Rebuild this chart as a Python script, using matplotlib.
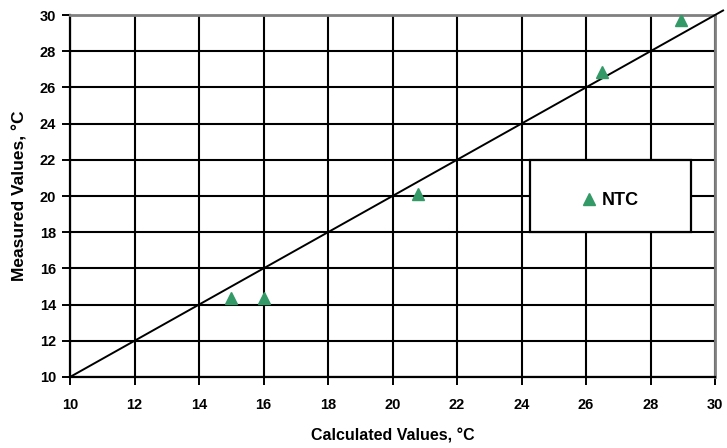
import matplotlib.pyplot as plt
from matplotlib.patches import Rectangle

plt.rcParams['font.family'] = ['Liberation Sans', 'DejaVu Sans']
plt.rcParams['font.weight'] = 'bold'

# Data
calculated = [15.0, 16.0, 20.8, 26.5, 28.95]
measured = [14.35, 14.35, 20.1, 26.85, 29.7]
ideal = [10, 30.25]
ticks = list(range(10, 31, 2))
series_name = "NTC"

# Plot
fig = plt.figure(figsize=(7.27, 4.48), dpi=100)
ax = fig.add_axes([0.0963, 0.1585, 0.8872, 0.808])
ax.set_xlim(10, 30)
ax.set_ylim(10, 30)
ax.set_xticks(ticks)
ax.set_yticks(ticks)
ax.grid(color="black", linewidth=1.5)
ax.set_axisbelow(True)

ax.plot(ideal, ideal, color="black", linewidth=1.4, clip_on=False, zorder=3)
ax.plot(calculated, measured, linestyle="none", marker="^", markersize=8.5,
        color="#339966", label=series_name, zorder=4)

for side in ("left", "bottom"):
    ax.spines[side].set_color("black")
    ax.spines[side].set_linewidth(1.6)
for side in ("top", "right"):
    ax.spines[side].set_color("#808080")
    ax.spines[side].set_linewidth(2.0)

ax.tick_params(direction="out", length=6, width=1.4, labelsize=10.5)
ax.tick_params(axis="x", pad=9)
ax.tick_params(axis="y", pad=4)
ax.set_xlabel("Calculated Values, °C", fontsize=11.5, fontweight="bold", labelpad=12)
ax.set_ylabel("Measured Values, °C", fontsize=12.5, fontweight="bold", labelpad=9)

# Legend box
ax.add_patch(Rectangle((0.713, 0.40), 0.25, 0.2, transform=ax.transAxes,
                       facecolor="white", edgecolor="black", linewidth=1.6, zorder=5))
leg = ax.legend(loc="center", bbox_to_anchor=(0.838, 0.488), frameon=False,
                handlelength=0.8, handletextpad=0.3,
                prop={"weight": "bold", "size": 13})
leg.set_zorder(6)

fig.savefig("out.png", dpi=100)
